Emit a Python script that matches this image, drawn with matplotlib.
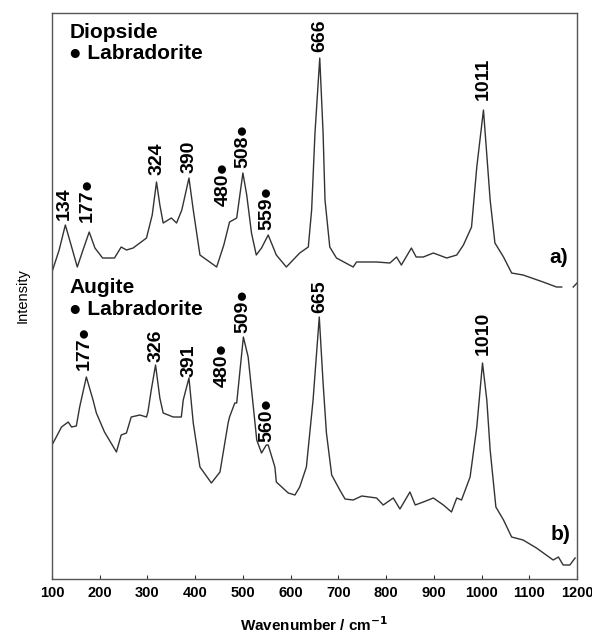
import matplotlib

matplotlib.use("Agg")
import matplotlib.pyplot as plt
import numpy as np

# trace a) Diopside + Labradorite
wn_a = [100, 115, 128, 140, 153, 165, 178, 190, 206, 231, 245, 256, 270, 298, 310,
        319, 326, 333, 350, 361, 372, 387, 396, 410, 445, 460, 472, 487, 500, 508,
        518, 528, 539, 553, 570, 591, 619, 637, 644, 651, 661, 668, 672, 682, 696,
        731, 738, 780, 808, 822, 832, 853, 863, 878, 899, 927, 948, 962, 979, 990,
        1004, 1018, 1028, 1046, 1063, 1087, 1129, 1157, 1168, 1180, 1192, 1200]
int_a = [307, 329, 354, 334, 312, 329, 347, 331, 321, 321, 332, 329, 331, 341, 364,
         397, 374, 356, 361, 356, 369, 401, 369, 324, 312, 334, 357, 361, 406, 384,
         346, 324, 331, 344, 324, 312, 326, 332, 369, 446, 521, 446, 379, 332, 321,
         312, 317, 317, 316, 322, 314, 331, 322, 322, 326, 321, 324, 334, 352, 412,
         469, 379, 336, 322, 306, 304, 297, 292, 292, np.nan, 292, 296]

# trace b) Augite + Labradorite
wn_b = [100, 109, 120, 134, 141, 151, 158, 172, 186, 193, 210, 235, 245, 256, 266,
        284, 298, 301, 308, 317, 326, 333, 354, 371, 375, 387, 396, 410, 434, 452,
        469, 472, 483, 487, 501, 511, 521, 529, 539, 549, 553, 567, 570, 595, 609,
        619, 633, 647, 660, 668, 675, 686, 703, 714, 731, 749, 780, 794, 815, 829,
        850, 861, 878, 899, 920, 937, 948, 958, 976, 990, 1002, 1011, 1018, 1030, 1046,
        1063, 1087, 1115, 1150, 1161, 1171, 1185, 1196]
int_b = [134, 142, 152, 157, 152, 153, 172, 202, 179, 166, 147, 127, 144, 146, 162,
         164, 162, 167, 189, 214, 181, 166, 162, 162, 179, 201, 156, 112, 96, 107,
         156, 162, 176, 176, 242, 222, 176, 139, 126, 134, 134, 112, 97, 86, 84,
         92, 112, 179, 262, 196, 146, 104, 89, 80, 79, 83, 81, 74, 81, 70,
         87, 74, 77, 81, 74, 67, 81, 79, 102, 152, 216, 179, 129, 72, 59,
         42, 39, 31, 19, 22, 14, 14, 21]

# peak labels: text, x position, y position (bottom of label)
labels_a = ["134", "177\u25CF", "324", "390", "480\u25CF", "508\u25CF", "559\u25CF", "666", "1011"]
lab_x_a = [126.6, 174.8, 319.5, 386.6, 457.9, 499.8, 550.1, 661.2, 1002.9]
lab_y_a = [359, 357, 404, 406, 373, 411, 349, 527, 479]

labels_b = ["177\u25CF", "326", "391", "480\u25CF", "509\u25CF", "560\u25CF", "665", "1010"]
lab_x_b = [168.6, 317.4, 386.6, 455.8, 499.8, 550.1, 661.2, 1002.9]
lab_y_b = [209, 217, 202, 192, 246, 137, 266, 224]

xticks = [100, 200, 300, 400, 500, 600, 700, 800, 900, 1000, 1100, 1200]

plt.rcParams["font.family"] = ["Liberation Sans", "DejaVu Sans"]

fig = plt.figure(figsize=(5.92, 6.35), dpi=100)
ax = fig.add_axes([0.0878, 0.0882, 0.8869, 0.8913])

line_col = "#333333"
ax.plot(wn_a, int_a, color=line_col, lw=1.0)
ax.plot(wn_b, int_b, color=line_col, lw=1.0)

for t, x, y in zip(labels_a, lab_x_a, lab_y_a):
    ax.text(x, y, t, rotation=90, ha="center", va="bottom",
            fontsize=14, fontweight="bold")
for t, x, y in zip(labels_b, lab_x_b, lab_y_b):
    ax.text(x, y, t, rotation=90, ha="center", va="bottom",
            fontsize=14, fontweight="bold")

ax.text(136, 547, "Diopside", fontsize=15, fontweight="bold", va="center")
ax.text(136, 526, "\u25CF Labradorite", fontsize=15, fontweight="bold", va="center")
ax.text(136, 292, "Augite", fontsize=15, fontweight="bold", va="center")
ax.text(136, 270, "\u25CF Labradorite", fontsize=15, fontweight="bold", va="center")
ax.text(1161, 322, "a)", fontsize=15, fontweight="bold", ha="center", va="center")
ax.text(1165, 44, "b)", fontsize=15, fontweight="bold", ha="center", va="center")

ax.set_xlim(100, 1200)
ax.set_ylim(0, 566)
ax.set_xticks(xticks)
ax.set_xticklabels([str(v) for v in xticks], fontweight="bold", fontsize=10.5)
ax.set_yticks([])
ax.tick_params(axis="x", direction="in", length=3, width=0.8, pad=5, colors="#333333")
ax.tick_params(axis="x", labelcolor="black")
for s in ax.spines.values():
    s.set_color("#555555")
    s.set_linewidth(1.0)

ax.set_xlabel("Wavenumber / cm$^{\\mathbf{-1}}$", fontsize=11, fontweight="bold", labelpad=11)
ax.set_ylabel("Intensity", fontsize=10.5, labelpad=16)

fig.savefig("out.png", dpi=100)
